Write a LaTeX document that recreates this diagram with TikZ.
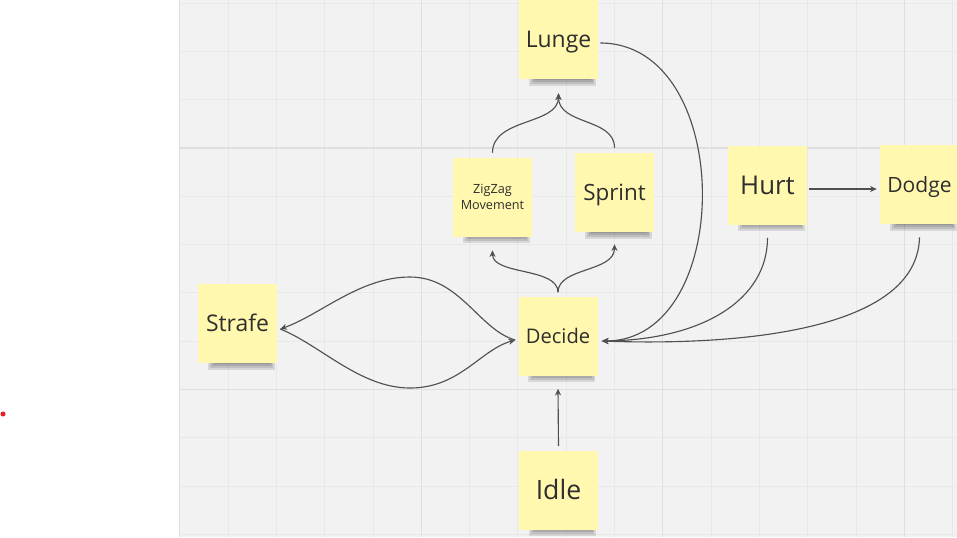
\documentclass[tikz,border=0pt]{standalone}
\usepackage{fontspec}
\setmainfont{Open Sans}
\usetikzlibrary{arrows.meta,calc}
\definecolor{bg}{HTML}{F2F2F2}
\definecolor{minorc}{HTML}{E8E8E8}
\definecolor{majorc}{HTML}{DFDFDF}
\definecolor{stick}{HTML}{FFF8AE}
\definecolor{ink}{HTML}{2E2E2E}
\definecolor{wire}{HTML}{505050}
\definecolor{dotred}{HTML}{E8202A}
\newcommand{\stickyshadow}[2]{%
  \foreach \k in {0,1,2,3}{\fill[black,opacity=0.11] (#1-30+2*\k,#2+38) rectangle (#1+37-1.5*\k,#2+46-2*\k);}}
\begin{document}
\begin{tikzpicture}[x=0.75pt,y=-0.75pt,
  stickybox/.style={fill=stick, minimum width=59.25pt, minimum height=59.25pt, inner sep=0pt, text=ink, text depth=0pt},
  conn/.style={draw=wire, line width=0.85pt, -{Stealth[length=5pt,width=4.5pt]}},
  minorline/.style={draw=minorc, line width=0.75pt},
  majorline/.style={draw=majorc, line width=0.9pt}]
\useasboundingbox (0,0) rectangle (957,537);
\fill[white] (0,0) rectangle (957,537);
\fill[bg] (179.8,0) rectangle (957,537);
\foreach \i in {1,...,16} \draw[minorline] (179.8+48.3*\i,0) -- (179.8+48.3*\i,537);
\foreach \j in {0,...,11} \draw[minorline] (179.8,3.1+48.3*\j) -- (957,3.1+48.3*\j);
\foreach \k in {0,...,3} \draw[majorline] (179.8+241.5*\k,0) -- (179.8+241.5*\k,537);
\foreach \y in {148,389.5} \draw[majorline] (179.8,\y) -- (957,\y);
\fill[dotred] (3,414) circle[radius=1.9pt];

% shadows
\stickyshadow{558.5}{39.5}
\stickyshadow{492.5}{197}
\stickyshadow{614.5}{192.5}
\stickyshadow{767.5}{185}
\stickyshadow{919.5}{184.5}
\stickyshadow{237.5}{323.5}
\stickyshadow{558}{336}
\stickyshadow{558.5}{490}

% sticky notes
\node[stickybox, font=\fontsize{17.2}{20}\selectfont, text height=12.3pt] (lunge) at (558.5,39.5) {Lunge};
\node[stickybox, font=\fontsize{9.5}{12}\selectfont, align=center, text depth=] (zigzag) at (492.5,197) {ZigZag\\Movement};
\node[stickybox, font=\fontsize{16.8}{20}\selectfont, text height=12pt] (sprint) at (614.5,192.5) {Sprint};
\node[stickybox, font=\fontsize{19.4}{22}\selectfont, text height=13.9pt] (hurt) at (767.5,185) {Hurt};
\node[stickybox, font=\fontsize{15.8}{20}\selectfont, text height=11.3pt] (dodge) at (919.5,184.5) {Dodge};
\node[stickybox, font=\fontsize{17.2}{20}\selectfont, text height=12.3pt] (strafe) at (237.5,323.5) {Strafe};
\node[stickybox, font=\fontsize{15.1}{18}\selectfont, text height=10.8pt] (decide) at (558,336) {Decide};
\node[stickybox, font=\fontsize{20}{22}\selectfont, text height=14.3pt] (idle) at (558.5,490) {Idle};

% connectors
\draw[conn] ($(lunge.east)+(2,3.5)$) .. controls +(135,0) and +(134,0) .. ($(decide.east)+(4,5)$);
\draw[conn] ($(hurt.south)+(0,13)$) .. controls +(0,63) and +(99,-1) .. ($(decide.east)+(4,5)$);
\draw[conn] ($(dodge.south)+(0,13)$) .. controls +(-2,93) and +(139,5) .. ($(decide.east)+(4,5)$);
\draw[conn] ($(hurt.east)+(2,4)$) -- ($(dodge.west)+(-3,4.5)$);
\draw[conn] ($(idle.north)+(0,-4)$) -- ($(decide.south)+(0,13)$);
\draw[conn] ($(decide.north)+(0,-4)$) .. controls +(0,-25) and +(0,25) .. ($(zigzag.south)+(0,13.5)$);
\draw[conn] ($(decide.north)+(0,-4)$) .. controls +(0,-25) and +(0,28) .. ($(sprint.south)+(0,12)$);
\draw[conn] ($(zigzag.north)+(0,-4.5)$) .. controls +(0,-35) and +(0,32) .. ($(lunge.south)+(0,14)$);
\draw[conn] ($(sprint.north)+(0,-5)$) .. controls +(0,-30) and +(0,32) .. ($(lunge.south)+(0,14)$);
\draw[conn] ($(decide.west)+(-3,4)$) .. controls +(-36,-10) and (460,277) .. (410,277) .. controls (360,277) and (320,315) .. ($(strafe.east)+(3,5.5)$);
\draw[conn] ($(strafe.east)+(3,5.5)$) .. controls +(40,16) and (360,388) .. (410,388) .. controls (460,388) and (480,350) .. ($(decide.west)+(-3,4)$);
\end{tikzpicture}
\end{document}
